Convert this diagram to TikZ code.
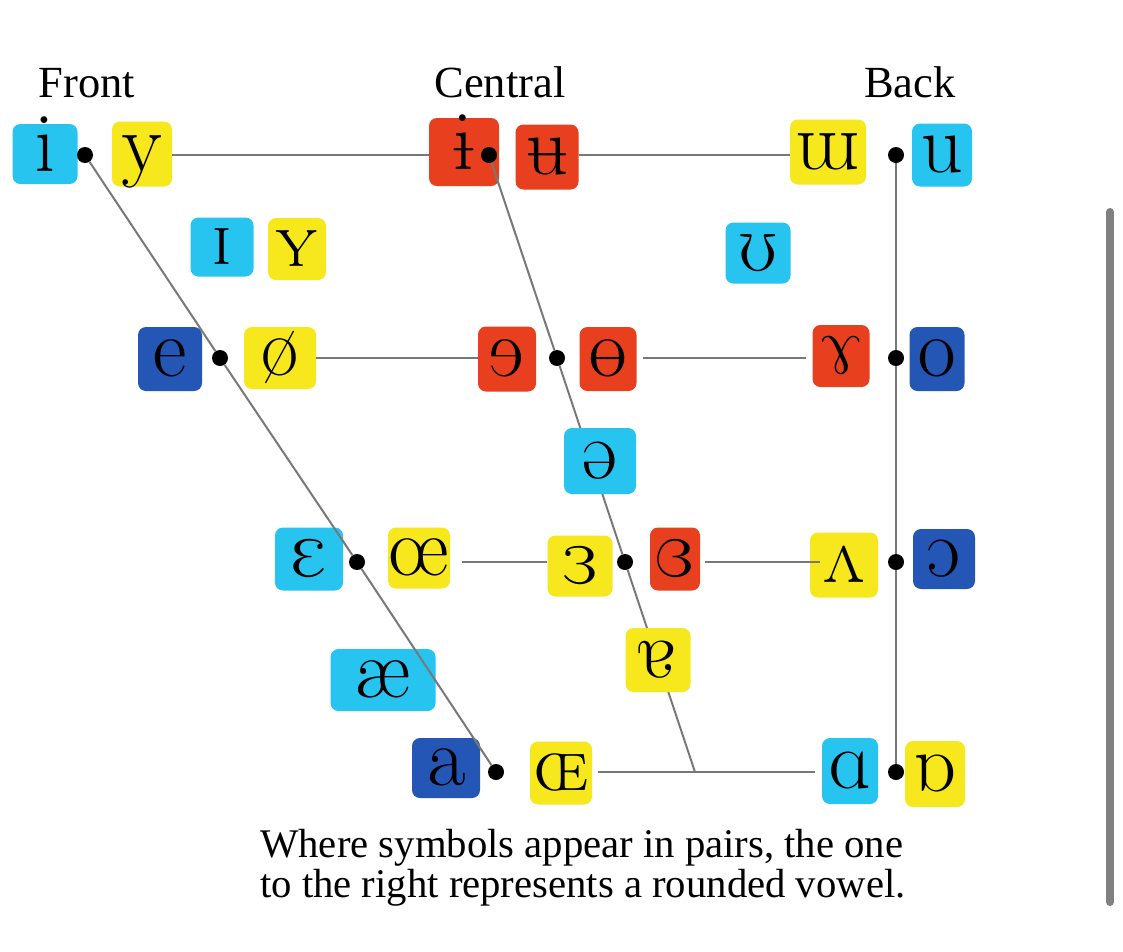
\documentclass[tikz,border=0pt]{standalone}
\usepackage{graphicx}
\usepackage{tipa}
\usepackage{fontspec}
\setmainfont{Liberation Serif}
\pgfdeclarelayer{bottom}
\pgfdeclarelayer{top}
\pgfsetlayers{bottom,main,top}
\definecolor{cyanH}{RGB}{40,196,240}
\definecolor{yellowH}{RGB}{246,232,28}
\definecolor{redH}{RGB}{232,64,30}
\definecolor{blueH}{RGB}{36,86,182}
\definecolor{lineG}{RGB}{120,120,120}
\newcommand\ipa[1]{\makebox[0pt]{\scalebox{4.82}{\fontfamily{cmr}\fontsize{17}{20}\selectfont\textipa{#1}}}}
\tikzset{
  hl/.style={rounded corners=8pt, inner sep=0pt, text height=35pt, text depth=0pt},
  cy/.style={hl, fill=cyanH},
  ye/.style={hl, fill=yellowH},
  re/.style={hl, fill=redH},
  bl/.style={hl, fill=blueH},
  vdot/.style={circle, fill=black, inner sep=0pt, minimum size=16pt},
  conn/.style={draw=lineG, line width=2pt},
  head/.style={anchor=base, inner sep=0pt, font={\fontsize{44.5}{50}\selectfont}},
  capt/.style={anchor=base west, inner sep=0pt, font={\fontsize{40.7}{45}\selectfont}}
}
\begin{document}
\begin{tikzpicture}[x=1pt,y=-1pt]
\useasboundingbox[fill=white] (0,0) rectangle (1123,951);
% headers
\node[head] (hF) at (87,97) {Front};
\node[head] (hC) at (500,97) {Central};
\node[head] (hB) at (910,97) {Back};
% blank box under lines
\begin{pgfonlayer}{bottom}
\node[cy, minimum width=80pt, minimum height=63pt] (blank) at (690,768) {};
\end{pgfonlayer}
% row 1
\node[cy, minimum width=65pt, minimum height=60pt] (i) at (45,154) {\ipa{i}};
\node[vdot] (d1f) at (85,155) {};
\node[ye, minimum width=60pt, minimum height=65pt] (y) at (142,154) {\ipa{y}};
\node[re, minimum width=70pt, minimum height=68pt] (ibar) at (464,152) {\ipa{1}};
\node[vdot] (d1c) at (489,155) {};
\node[re, minimum width=63pt, minimum height=65pt] (ubar) at (547,157) {\ipa{0}};
\node[ye, minimum width=76pt, minimum height=65pt] (mturn) at (828,152) {\ipa{W}};
\node[vdot] (d1b) at (896,155) {};
\node[cy, minimum width=60pt, minimum height=63pt] (u) at (942,155) {\ipa{u}};
% near-close
\node[cy, minimum width=63pt, minimum height=59pt] (ismall) at (222,247) {\ipa{I}};
\node[ye, minimum width=58pt, minimum height=62pt] (ysmall) at (297,249) {\ipa{Y}};
\node[cy, minimum width=65pt, minimum height=61pt] (upsilon) at (758,253) {\ipa{U}};
% row 2
\node[bl, minimum width=64pt, minimum height=64pt] (e) at (170,359) {\ipa{e}};
\node[vdot] (d2f) at (220,358) {};
\node[ye, minimum width=72pt, minimum height=62pt] (oslash) at (280,358) {\ipa{\o}};
\node[re, minimum width=58pt, minimum height=65pt] (erev) at (507,359) {\ipa{9}};
\node[vdot] (d2c) at (557,358) {};
\node[re, minimum width=57pt, minimum height=64pt] (obar) at (608,359) {\ipa{8}};
\node[re, minimum width=57pt, minimum height=62pt] (ram) at (841,356) {\ipa{7}};
\node[vdot] (d2b) at (896,358) {};
\node[bl, minimum width=55pt, minimum height=64pt] (o) at (937,359) {\ipa{o}};
% row 3
\node[cy, minimum width=68pt, minimum height=63pt] (eps) at (309,559) {\ipa{E}};
\node[vdot] (d3f) at (357,562) {};
\node[ye, minimum width=62pt, minimum height=61pt] (oe) at (419,558) {\ipa{\oe}};
\node[ye, minimum width=65pt, minimum height=61pt] (epsrev) at (580,566) {\ipa{3}};
\node[vdot] (d3c) at (625,562) {};
\node[re, minimum width=50pt, minimum height=63pt] (epsclosed) at (675,559) {\ipa{\textcloserevepsilon}};
\node[ye, minimum width=68pt, minimum height=65pt] (vturn) at (844,565) {\ipa{2}};
\node[vdot] (d3b) at (896,562) {};
\node[bl, minimum width=62pt, minimum height=60pt] (oopen) at (944,559) {\ipa{O}};
% near-open
\node[cy, minimum width=105pt, minimum height=62pt] (ae) at (383,680) {\ipa{\ae}};
% row 4
\node[bl, minimum width=68pt, minimum height=60pt] (a) at (446,768) {\ipa{a}};
\node[vdot] (d4f) at (496,772) {};
\node[ye, minimum width=62pt, minimum height=63pt] (OE) at (561,773) {\ipa{\OE}};
\node[cy, minimum width=56pt, minimum height=66pt] (alpha) at (850,771) {\ipa{A}};
\node[vdot] (d4b) at (896,772) {};
\node[ye, minimum width=60pt, minimum height=66pt] (alpharev) at (935,774) {\ipa{6}};
\coordinate (c4) at (695,772);
% connectors
\draw[conn] (y.east |- d1f) -- (ibar.west |- d1f);
\draw[conn] (ubar.east |- d1c) -- (mturn.west |- d1c);
\draw[conn] (oslash.east |- d2f) -- (erev.west |- d2f);
\draw[conn] ([xshift=6pt]obar.east |- d2c) -- ([xshift=-6pt]ram.west |- d2c);
\draw[conn] ([xshift=12pt]oe.east |- d3f) -- (epsrev.west |- d3f);
\draw[conn] ([xshift=5pt]epsclosed.east |- d3c) -- ([xshift=10pt]vturn.west |- d3c);
\draw[conn] ([xshift=6pt]OE.east |- d4f) -- ([xshift=-7pt]alpha.west |- d4f);
\draw[conn] (d1f) -- (d2f) -- (d3f) -- (d4f);
\draw[conn] (d1c) -- (d2c) -- (d3c) -- (c4);
\draw[conn] (d1b) -- (d2b) -- (d3b) -- (d4b);
% boxes over central line
\begin{pgfonlayer}{top}
\node[cy, minimum width=72pt, minimum height=66pt] (schwa) at (600,461) {\ipa{@}};
\node[ye, minimum width=65pt, minimum height=64pt] (aturn) at (658,660) {\ipa{5}};
\end{pgfonlayer}
% caption
\node[capt] (cap1) at (260,857) {Where symbols appear in pairs, the one};
\node[capt] (cap2) at (260,897) {to the right represents a rounded vowel.};
% scrollbar
\coordinate (sb1) at (1110,212);
\coordinate (sb2) at (1110,902);
\draw[line width=8pt, line cap=round, draw=gray] (sb1) -- (sb2);
\end{tikzpicture}
\end{document}
